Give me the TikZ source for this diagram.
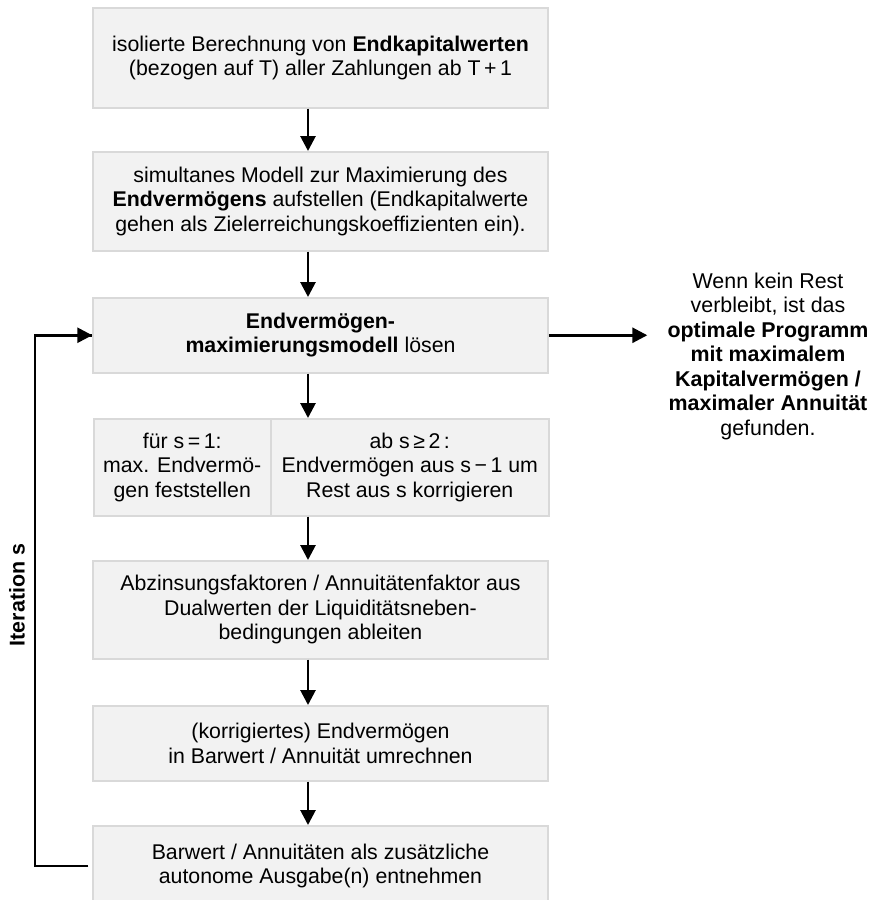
\documentclass[tikz,border=0pt]{standalone}
\usepackage{fontspec}
\setmainfont{Liberation Sans}
\usetikzlibrary{arrows.meta}
\definecolor{boxfill}{HTML}{F2F2F2}
\definecolor{boxline}{HTML}{D9D9D9}

\begin{document}
\begin{tikzpicture}[x=1pt,y=-1pt,
  stepbox/.style={draw=boxline, fill=boxfill, line width=1.5pt,
    minimum width=455pt, align=center, inner sep=0pt,
    font=\fontsize{21.3}{24.3}\selectfont},
  plain/.style={align=center, font=\fontsize{21.4}{24.5}\selectfont},
  flow/.style={line width=2.8pt, -{Triangle[length=15pt,width=15pt]}}]

\useasboundingbox (0,0) rectangle (870,900);

% main column of steps
\node[stepbox, minimum height=100pt, anchor=north] (b1) at (320.5,7)
  {isolierte Berechnung von \textbf{Endkapitalwerten}\\(bezogen auf T) aller Zahlungen ab T\,+\,1};
\node[stepbox, minimum height=99pt, anchor=north] (b2) at (320.5,151)
  {simultanes Modell zur Maximierung des\\\textbf{Endvermögens} aufstellen (Endkapitalwerte\\gehen als Zielerreichungskoeffizienten ein).};
\node[stepbox, minimum height=75pt, anchor=north] (b3) at (320.5,297)
  {\textbf{Endvermögen-}\\\textbf{maximierungsmodell} lösen};
\node[stepbox, minimum width=177pt, minimum height=97pt, anchor=north west] (b4a) at (93,418)
  {für s\,=\,1:\\max. Endvermö-\\gen feststellen};
\node[stepbox, minimum width=278pt, minimum height=97pt, anchor=north west] (b4b) at (270,418)
  {ab s\,≥\,2\,:\\Endvermögen aus s\,−\,1 um\\Rest aus s korrigieren};
\node[stepbox, minimum height=98pt, anchor=north] (b5) at (320.5,560)
  {Abzinsungsfaktoren / Annuitätenfaktor aus\\Dualwerten der Liquiditätsneben-\\bedingungen ableiten};
\node[stepbox, minimum height=75pt, anchor=north] (b6) at (320.5,705)
  {(korrigiertes) Endvermögen\\in Barwert / Annuität umrechnen};
\node[stepbox, minimum height=80pt, anchor=north] (b7) at (320.5,825)
  {Barwert / Annuitäten als zusätzliche\\autonome Ausgabe(n) entnehmen};

% result text on the right
\node[plain, inner xsep=20pt] (res) at (768,356)
  {Wenn kein Rest\\verbleibt, ist das\\\textbf{optimale Programm}\\\textbf{mit maximalem}\\\textbf{Kapitalvermögen /}\\\textbf{maximaler Annuität}\\gefunden.};

% loop label
\node[rotate=90, font=\fontsize{21.4}{24}\selectfont\bfseries] (iter) at (17,595) {Iteration s};

% axis of the vertical arrows and corner of the loop
\coordinate (ax) at (308,0);
\coordinate (loop) at (35,866);

% connectors
\draw[flow] (b1.south -| ax) -- (b2.north -| ax);
\draw[flow] (b2.south -| ax) -- (b3.north -| ax);
\draw[flow] (b3.south -| ax) -- (b4b.north -| ax);
\draw[flow] (b4b.south -| ax) -- (b5.north -| ax);
\draw[flow] (b5.south -| ax) -- (b6.north -| ax);
\draw[flow] (b6.south -| ax) -- (b7.north -| ax);
\draw[flow] (b3.east) -- (b3.east -| res.west);
\draw[line width=2.8pt] ([xshift=-4pt]b7.west |- loop) -- (loop) |- (b3.west);
\draw[flow] (loop |- b3.west) -- (b3.west);
\end{tikzpicture}
\end{document}
